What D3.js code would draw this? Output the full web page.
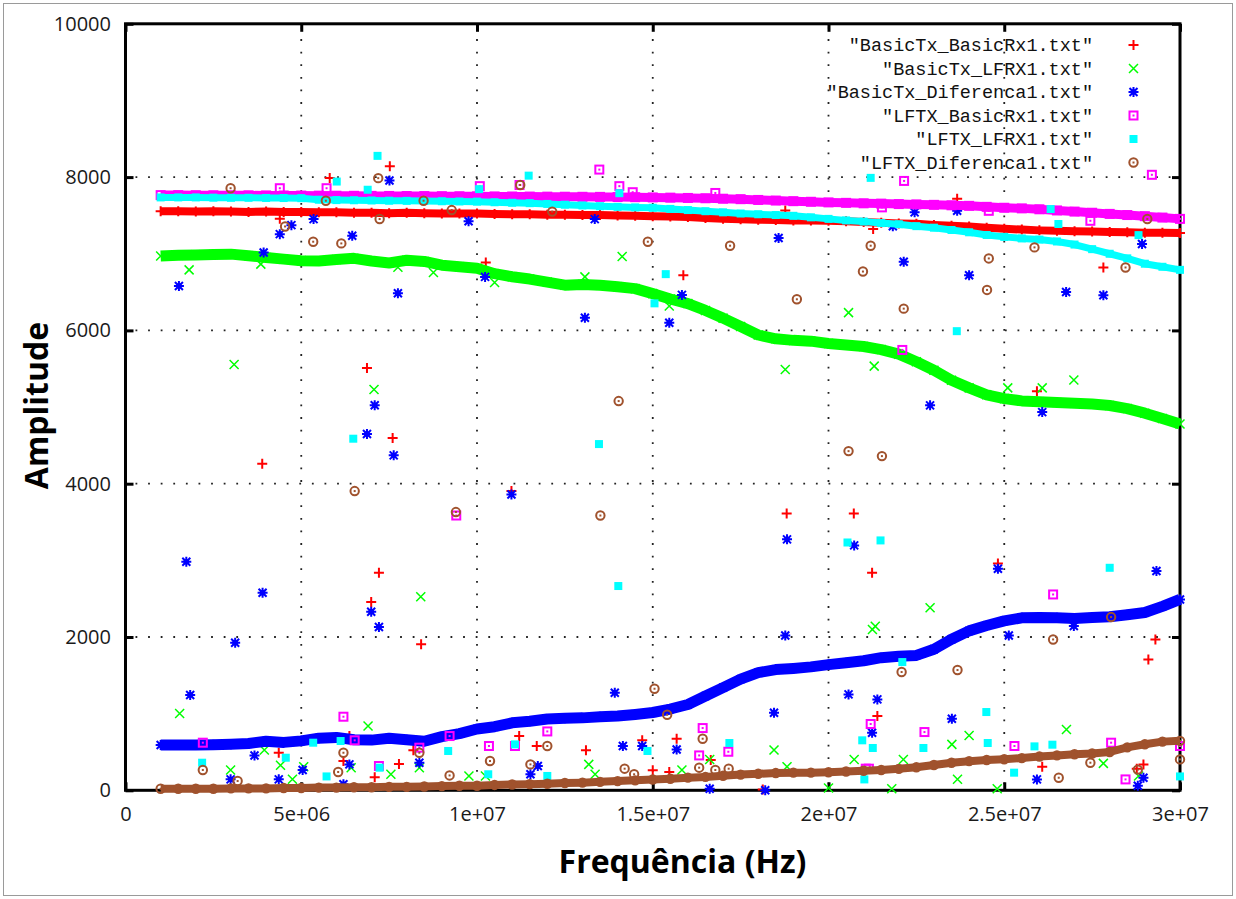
<!DOCTYPE html>
<html>
<head>
<meta charset="utf-8">
<script src="https://cdn.jsdelivr.net/npm/d3@7"></script>
<style>
body { margin: 0; background: #fff; }
</style>
</head>
<body>
<div id="field"></div>
<script>

// frequencies of the dense sweep, in units of 1e6 Hz
const freqMHz = [1,1.5,2,2.5,3,3.5,4,4.5,5,5.5,6,6.5,7,7.5,8,8.5,9,9.5,10,10.5,
    11,11.5,12,12.5,13,13.5,14,14.5,15,15.5,16,16.5,17,17.5,18,18.5,19,19.5,20,20.5,
    21,21.5,22,22.5,23,23.5,24,24.5,25,25.5,26,26.5,27,27.5,28,28.5,29,29.5,30];

const basicBasic = [7555,7555,7550,7555,7550,7545,7550,7545,7545,7540,
    7540,7535,7535,7530,7535,7530,7525,7525,7525,7520,
    7515,7515,7510,7510,7505,7505,7500,7495,7490,7485,
    7480,7465,7455,7450,7445,7440,7435,7435,7430,7425,
    7415,7405,7395,7390,7375,7365,7355,7340,7325,7315,
    7305,7300,7295,7290,7285,7280,7275,7275,7270];

const basicLfrx = [6970,6980,6985,6990,6995,6975,6950,6930,6910,6905,
    6925,6940,6905,6880,6915,6900,6850,6830,6810,6740,
    6700,6670,6630,6590,6600,6590,6570,6545,6480,6410,
    6350,6260,6160,6050,5940,5890,5870,5860,5830,5810,
    5790,5750,5690,5590,5480,5350,5250,5160,5110,5080,
    5070,5060,5050,5040,5020,4980,4920,4850,4780];

const basicDif = [590,590,590,595,600,610,640,625,645,680,
    690,660,655,680,660,640,700,740,800,830,
    880,900,930,940,945,960,970,990,1015,1060,
    1120,1230,1340,1450,1535,1575,1590,1610,1640,1665,
    1690,1730,1750,1760,1840,1970,2080,2150,2210,2250,
    2255,2250,2240,2255,2265,2290,2320,2400,2490];

const lftxBasic = [7765,7765,7764,7763,7762,7762,7761,7760,7759,7758,
    7757,7756,7755,7754,7753,7752,7751,7750,7749,7748,
    7747,7746,7745,7744,7743,7742,7740,7738,7735,7732,
    7728,7724,7718,7712,7702,7694,7686,7678,7670,7664,
    7658,7654,7648,7644,7638,7632,7625,7612,7600,7592,
    7580,7565,7550,7535,7520,7505,7490,7472,7455];

const lftxLfrx = [7735,7735,7735,7732,7730,7730,7728,7727,7725,7705,
    7700,7698,7695,7692,7690,7688,7685,7682,7680,7672,
    7665,7660,7650,7640,7630,7620,7612,7605,7600,7585,
    7570,7555,7540,7525,7515,7505,7495,7475,7455,7435,
    7420,7400,7385,7360,7340,7310,7280,7245,7220,7200,
    7185,7160,7120,7060,7000,6940,6870,6830,6790];

const lftxDif = [20,20,20,20,25,25,25,30,30,35,
    35,40,40,45,45,50,55,60,60,70,
    75,80,85,95,100,110,120,130,140,150,
    165,175,190,205,215,225,230,230,235,245,
    255,265,280,300,330,360,380,395,405,420,
    440,455,470,480,500,560,600,635,645];

// stray points [freq (1e6 Hz), amplitude]
const basicBasicOut = [[5.81,7988],[7.52,8140],[4.39,7457],[3.89,4260],[6.87,5510],[7.6,4596],
    [7.21,2838],[6.99,2457],[8.41,1904],[10.98,3904],[10.25,6885],[15.87,6720],
    [18.81,3612],[20.72,3612],[21.24,2838],[21.39,969],[24.82,2960],[29.3,1968],[29.1,1707],
    [15.68,673],[15.47,239],[16.65,395],[26.08,308],[28.77,282],[28.96,338],[18.13,10],
    [4.36,490],[6.2,382],[6.37,708],[7.09,170],[7.78,343],[8.19,522],[11.2,708],[11.7,578],
    [13.1,522],[14.7,652],[15.0,261],[18.77,7563],[23.66,7716],[21.27,7323],[27.82,6821],[25.93,5205]];

const basicLfrxOut = [[1.81,6790],[3.09,5555],[7.07,5228],[3.85,6865],[7.75,6825],[8.76,6755],
    [10.5,6625],[13.07,6698],[14.13,6963],[15.47,6318],[20.57,6232],[18.77,5490],[21.3,5534],
    [25.1,5250],[26.08,5250],[26.98,5352],[1.54,1003],[8.4,2525],[6.9,838],[2.99,265],[3.95,525],
    [4.41,326],[5.07,308],[6.42,295],[7.55,209],[8.36,295],[9.77,187],[10.24,187],[13.18,338],
    [13.36,209],[4.75,143],[21.25,2099],[21.33,2140],[22.89,2382],[18.45,526],[18.82,308],
    [15.83,265],[16.62,403],[20.73,403],[22.13,403],[23.51,599],[24.0,716],[26.77,794],
    [27.82,351],[23.67,143],[20.0,30],[21.8,20],[24.8,20],[28.82,187]];

const basicDifOut = [[1.52,6580],[3.93,7016],[4.39,7256],[4.72,7373],[5.35,7452],[6.45,7235],
    [7.51,7955],[9.76,7423],[7.75,6484],[10.23,6698],[13.07,6166],[13.35,7452],[7.09,5023],
    [6.87,4648],[18.58,7205],[22.45,7540],[21.83,7358],[22.14,6895],[24.0,6720],[26.76,6502],
    [27.82,6458],[28.92,7127],[15.83,6463],[15.47,6100],[22.89,5022],[26.08,4934],[23.66,7560],
    [1.73,2982],[3.9,2577],[3.12,1925],[1.84,1243],[6.99,2330],[7.21,2130],[7.63,4370],
    [10.98,3860],[3.67,455],[5.04,265],[6.37,338],[8.36,360],[11.73,317],[14.15,578],[14.7,578],
    [13.92,1273],[2.99,143],[4.36,143],[6.2,78],[11.52,209],[18.82,3274],[20.73,3195],
    [24.82,2890],[29.33,2860],[18.77,2020],[25.13,2020],[26.98,2143],[20.57,1251],[21.39,1186],
    [18.45,1012],[23.51,934],[21.24,751],[15.68,533],[25.93,142],[28.96,164],[16.62,20],
    [18.2,0],[28.8,60]];

const lftxBasicOut = [[29.2,8030],[22.15,7950],[4.39,7855],[5.72,7855],[13.48,8098],[11.21,7897],
    [14.05,7882],[14.43,7803],[10.08,7882],[16.78,7793],[27.45,7430],[24.56,7560],[21.52,7605],
    [22.1,5745],[9.41,3585],[6.2,960],[2.2,621],[6.52,652],[9.22,708],[8.36,556],[7.21,317],
    [10.34,578],[11.08,578],[12.0,768],[26.39,2555],[16.42,812],[16.32,455],[17.15,503],
    [21.2,865],[22.73,760],[21.06,282],[21.15,282],[25.29,578],[28.04,621],[28.45,142],[30.0,578]];

const lftxLfrxOut = [[21.2,7990],[7.17,8277],[6.01,7942],[11.47,8019],[6.89,7835],[10.06,7843],
    [14.05,7790],[15.05,6353],[6.48,4587],[13.47,4517],[15.37,6734],[23.65,5990],[26.32,7583],
    [26.54,7388],[28.82,7243],[14.02,2665],[2.18,360],[4.56,425],[5.34,621],[6.12,643],
    [5.72,181],[7.23,295],[9.18,513],[10.32,209],[11.08,599],[12.0,187],[14.85,513],
    [20.54,3233],[21.48,3260],[28.0,2903],[22.1,1673],[24.49,1021],[17.18,617],[20.96,652],
    [21.26,552],[22.7,552],[24.53,617],[25.86,573],[26.37,595],[25.28,230],[21.02,142],[30.0,181]];

const lftxDifOut = [[2.99,7855],[7.19,7986],[5.7,7692],[8.48,7692],[4.54,7356],[5.34,7157],
    [6.14,7135],[7.23,7453],[9.28,7570],[11.23,7897],[12.14,7550],[14.86,7157],[14.03,5078],
    [17.2,7105],[21.2,7105],[20.98,6768],[19.1,6406],[22.14,6284],[24.56,6939],[24.51,6528],
    [25.86,7083],[28.45,6821],[29.07,7454],[20.57,4425],[21.52,4360],[15.05,1325],[22.08,1543],
    [23.67,1569],[26.39,1968],[15.41,986],[16.42,673],[16.32,295],[16.78,265],[17.16,282],
    [27.45,360],[26.55,164],[28.04,2260],[30.0,403],[28.8,270],[6.52,3904],[9.4,3630],
    [13.51,3585],[2.2,265],[6.2,490],[6.05,239],[3.19,121],[8.36,490],[9.22,194],[10.37,382],
    [12.0,578],[11.52,338],[14.2,282],[14.47,209]];

const seriesNames = ['"BasicTx_BasicRx1.txt"', '"BasicTx_LFRX1.txt"', '"BasicTx_Diferenca1.txt"',
    '"LFTX_BasicRx1.txt"', '"LFTX_LFRX1.txt"', '"LFTX_Diferenca1.txt"'];
const seriesColors = ["#ff0000", "#00ff00", "#0000ff", "#ff00ff", "#00ffff", "#a0522d"];
const seriesMarkers = ["plus", "cross", "star", "box", "fbox", "circle"];
const seriesValues = [basicBasic, basicLfrx, basicDif, lftxBasic, lftxLfrx, lftxDif];
const seriesOutliers = [basicBasicOut, basicLfrxOut, basicDifOut, lftxBasicOut, lftxLfrxOut, lftxDifOut];
const bandWidths = [8, 11, 11, 9, 7, 8];

const xTickValues = [0, 5, 10, 15, 20, 25, 30];
const xTickLabels = ["0", "5e+06", "1e+07", "1.5e+07", "2e+07", "2.5e+07", "3e+07"];
const yTickValues = [0, 2000, 4000, 6000, 8000, 10000];
const yTickLabels = ["0", "2000", "4000", "6000", "8000", "10000"];

// sizes of stuff

const width = 1236;
const height = 899;
const plotLeft = 125.5, plotRight = 1180, plotTop = 23.8, plotBottom = 790.3;

const xScale = d3.scaleLinear().domain([0, 30]).range([plotLeft, plotRight]);
const yScale = d3.scaleLinear().domain([0, 10000]).range([plotBottom, plotTop]);

const chart = d3.select("#field")
    .append("svg")
    .attr("width", width)
    .attr("height", height);

// outer border
chart.append("rect")
    .attr("x", 3.5).attr("y", 3.5)
    .attr("width", 1229).attr("height", 892)
    .attr("fill", "none")
    .attr("stroke", "#9a9a9a")
    .attr("stroke-width", 1);

// dotted grid

const grid = chart.append("g").attr("class", "grid");

grid.selectAll("line.gx")
    .data(xTickValues.slice(1, -1))
    .enter().append("line")
    .attr("class", "gx")
    .attr("x1", function(d) { return xScale(d); })
    .attr("x2", function(d) { return xScale(d); })
    .attr("y1", plotBottom - 6)
    .attr("y2", plotTop + 4);

grid.selectAll("line.gy")
    .data(yTickValues.slice(1, -1))
    .enter().append("line")
    .attr("class", "gy")
    .attr("x1", plotLeft + 10)
    .attr("x2", plotRight - 6)
    .attr("y1", function(d) { return yScale(d); })
    .attr("y2", function(d) { return yScale(d); });

grid.selectAll("line")
    .attr("stroke", "#222")
    .attr("stroke-width", 1.8)
    .attr("stroke-dasharray", "1.8 10.8");

// axes

const xAxis = d3.axisBottom(xScale)
    .tickValues(xTickValues)
    .tickFormat(function(d, i) { return xTickLabels[i]; })
    .tickSize(-8)
    .tickPadding(17);

const yAxis = d3.axisLeft(yScale)
    .tickValues(yTickValues)
    .tickFormat(function(d, i) { return yTickLabels[i]; })
    .tickSize(-8)
    .tickPadding(14.5);

const axisStyle = function(g) {
    g.select(".domain").remove();
    g.selectAll(".tick line").attr("stroke", "#000").attr("stroke-width", 3);
    g.selectAll(".tick text")
        .attr("fill", "#1a1a1a")
        .style("font-family", "'Open Sans', sans-serif")
        .style("font-size", "20px");
};

chart.append("g")
    .attr("transform", "translate(0," + plotBottom + ")")
    .call(xAxis).call(axisStyle);

chart.append("g")
    .attr("transform", "translate(" + plotLeft + ",0)")
    .call(yAxis).call(axisStyle);

chart.append("g")
    .attr("transform", "translate(0," + plotTop + ")")
    .call(d3.axisTop(xScale).tickValues(xTickValues).tickFormat("").tickSize(-8))
    .call(axisStyle);

chart.append("g")
    .attr("transform", "translate(" + plotRight + ",0)")
    .call(d3.axisRight(yScale).tickValues(yTickValues).tickFormat("").tickSize(-8))
    .call(axisStyle);

chart.append("rect")
    .attr("x", plotLeft).attr("y", plotTop)
    .attr("width", plotRight - plotLeft).attr("height", plotBottom - plotTop)
    .attr("fill", "none")
    .attr("stroke", "#000")
    .attr("stroke-width", 3);

// axis titles

chart.append("text")
    .attr("transform", "translate(48,405.5) rotate(-90)")
    .attr("text-anchor", "middle")
    .style("font-family", "'Open Sans', sans-serif")
    .style("font-weight", "bold")
    .style("font-size", "32px")
    .text("Amplitude");

chart.append("text")
    .attr("x", 682.5)
    .attr("y", 873)
    .attr("text-anchor", "middle")
    .style("font-family", "'Open Sans', sans-serif")
    .style("font-weight", "bold")
    .style("font-size", "32px")
    .text("Frequência (Hz)");

// point markers like the gnuplot png terminal

function drawMarker(g, type, color) {
    if (type === "plus") {
        g.append("path").attr("d", "M-5,0H5M0,-5V5")
            .attr("stroke", color).attr("stroke-width", 2).attr("fill", "none");
    } else if (type === "cross") {
        g.append("path").attr("d", "M-4.5,-4.5L4.5,4.5M-4.5,4.5L4.5,-4.5")
            .attr("stroke", color).attr("stroke-width", 1.5).attr("fill", "none");
    } else if (type === "star") {
        g.append("path").attr("d", "M-5,0H5M0,-5V5M-4,-4L4,4M-4,4L4,-4")
            .attr("stroke", color).attr("stroke-width", 2).attr("fill", "none");
        g.append("rect").attr("x", -2.5).attr("y", -2.5).attr("width", 5).attr("height", 5)
            .attr("fill", color);
    } else if (type === "box") {
        g.append("rect").attr("x", -4).attr("y", -4).attr("width", 8).attr("height", 8)
            .attr("stroke", color).attr("stroke-width", 2).attr("fill", "none");
        g.append("rect").attr("x", -1).attr("y", -1).attr("width", 2).attr("height", 2)
            .attr("fill", color);
    } else if (type === "fbox") {
        g.append("rect").attr("x", -4).attr("y", -4).attr("width", 8).attr("height", 8)
            .attr("fill", color);
    } else {
        g.append("circle").attr("r", 4.2)
            .attr("stroke", color).attr("stroke-width", 2).attr("fill", "none");
        g.append("rect").attr("x", -1).attr("y", -1).attr("width", 2).attr("height", 2)
            .attr("fill", color);
    }
}

const bandLine = d3.line()
    .x(function(d) { return xScale(d[0]); })
    .y(function(d) { return yScale(d[1]); });

const plot = chart.append("g").attr("class", "plot");

seriesValues.forEach(function(values, s) {
    const sweep = freqMHz.map(function(f, i) { return [f, values[i]]; });
    const g = plot.append("g").attr("class", "series");

    // dense sweep shows up as a solid band of markers
    g.append("path")
        .datum(sweep)
        .attr("d", bandLine)
        .attr("fill", "none")
        .attr("stroke", seriesColors[s])
        .attr("stroke-width", bandWidths[s])
        .attr("stroke-linejoin", "round");

    g.selectAll("g.pt")
        .data(sweep.concat(seriesOutliers[s]))
        .enter().append("g")
        .attr("class", "pt")
        .attr("transform", function(d) { return "translate(" + xScale(d[0]) + "," + yScale(d[1]) + ")"; })
        .each(function() { drawMarker(d3.select(this), seriesMarkers[s], seriesColors[s]); });
});

// legend

const legend = chart.append("g").attr("class", "legend");

seriesNames.forEach(function(name, i) {
    const y = 45 + i * 23.5;
    legend.append("text")
        .attr("x", 1093)
        .attr("y", y)
        .attr("dy", "0.35em")
        .attr("text-anchor", "end")
        .attr("fill", "#111")
        .style("font-family", "'Liberation Mono', monospace")
        .style("font-size", "18.5px")
        .text(name);
    const m = legend.append("g").attr("transform", "translate(1133.5," + y + ")");
    drawMarker(m, seriesMarkers[i], seriesColors[i]);
});

</script>
</body>
</html>
